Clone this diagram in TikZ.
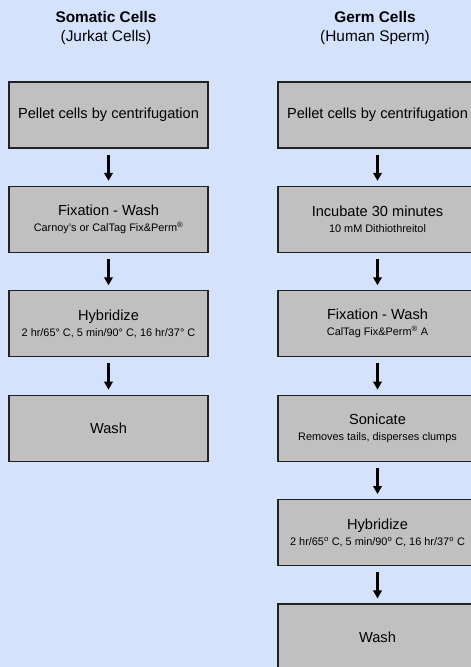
\documentclass[tikz,border=0pt]{standalone}
\usepackage{fontspec}
\setmainfont{Liberation Sans}
\usepackage{tikz}
\usetikzlibrary{positioning}
\usetikzlibrary{arrows.meta}
\definecolor{bgblue}{RGB}{213,226,252}
\definecolor{boxgrey}{RGB}{192,192,192}
\definecolor{boxline}{RGB}{34,34,34}
\newcommand{\sub}[1]{{\fontsize{10.9}{13}\selectfont #1}}
\tikzstyle{stepbox} = [rectangle, draw=boxline, line width=1.1pt, fill=boxgrey, minimum width=199pt, minimum height=66pt, align=center, inner sep=0pt, font=\fontsize{14.6}{16}\selectfont]
\tikzstyle{title} = [align=center, font=\fontsize{15.4}{19}\selectfont]
\tikzstyle{arrow} = [line width=2.6pt,-{Triangle[length=8pt,width=8.5pt]},shorten <=6pt,shorten >=5pt]

\begin{document}
\begin{tikzpicture}[x=1pt,y=1pt, node distance=37.3pt]
\useasboundingbox (0,0) rectangle (471,-667);
\clip (0,0) rectangle (471,-667);
\fill[bgblue] (0,0) rectangle (471,-667);

% somatic cells
\node[title] (somatic) at (106,-28.5) {\textbf{Somatic Cells}\\(Jurkat Cells)};
\node[stepbox] (s1) at (108.5,-115) {Pellet cells by centrifugation};
\node[stepbox, below=of s1] (s2) {Fixation - Wash\\\sub{Carnoy's or CalTag Fix\&Perm\textsuperscript{®}}};
\node[stepbox, below=of s2] (s3) {Hybridize\\\sub{2 hr/65° C, 5 min/90° C, 16 hr/37° C}};
\node[stepbox, below=of s3] (s4) {Wash};

% germ cells
\node[title] (germ) at (375,-28.5) {\textbf{Germ Cells}\\(Human Sperm)};
\node[stepbox] (g1) at (377.5,-115) {Pellet cells by centrifugation};
\node[stepbox, below=of g1] (g2) {Incubate 30 minutes\\\sub{10 mM Dithiothreitol}};
\node[stepbox, below=of g2] (g3) {Fixation - Wash\\\sub{CalTag Fix\&Perm\textsuperscript{®} A}};
\node[stepbox, below=of g3] (g4) {Sonicate\\\sub{Removes tails, disperses clumps}};
\node[stepbox, below=of g4] (g5) {Hybridize\\\sub{2 hr/65\textsuperscript{o} C, 5 min/90\textsuperscript{o} C, 16 hr/37\textsuperscript{o} C}};
\node[stepbox, below=of g5] (g6) {Wash};

\draw[arrow] (s1) -- (s2);
\draw[arrow] (s2) -- (s3);
\draw[arrow] (s3) -- (s4);
\draw[arrow] (g1) -- (g2);
\draw[arrow] (g2) -- (g3);
\draw[arrow] (g3) -- (g4);
\draw[arrow] (g4) -- (g5);
\draw[arrow] (g5) -- (g6);
\end{tikzpicture}
\end{document}
